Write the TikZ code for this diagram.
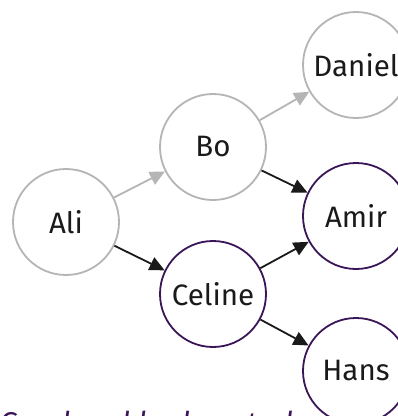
\documentclass[tikz,border=0pt]{standalone}
\usepackage{fontspec}
\setmainfont{Fira Sans}
\usetikzlibrary{arrows.meta}
\definecolor{faded}{HTML}{B5B5B5}
\definecolor{plum}{HTML}{3A1558}
\definecolor{ink}{HTML}{1A1A1A}
\begin{document}
\begin{tikzpicture}[x=1pt,y=-1pt,
  person/.style={circle, minimum size=106pt, inner sep=0pt, line width=1.8pt,
    fill=white, font=\fontsize{29.5}{32}\selectfont, text=ink},
  dim/.style={person, draw=faded},
  focus/.style={person, draw=plum},
  link/.style={line width=1.8pt, -{Triangle[length=15pt,width=14pt]}},
  dimlink/.style={link, draw=faded},
  strong/.style={link, draw=ink}]
\useasboundingbox (0,0) rectangle (398,416);
\clip (0,0) rectangle (398,416);
\fill[white] (0,0) rectangle (398,416);

\node[dim]   (ali)    at (66,222)  {Ali};
\node[dim]   (bo)     at (213,147) {Bo};
\node[dim]   (daniel) at (356,65)  {Daniel};
\node[focus] (celine) at (213,294) {Celine};
\node[focus] (amir)   at (356,216) {Amir};
\node[focus] (hans)   at (356,371) {Hans};

\draw[dimlink] (ali) -- (bo);
\draw[dimlink] (bo) -- (daniel);
\draw[strong]  (ali) -- (celine);
\draw[strong]  (bo) -- (amir);
\draw[strong]  (celine) -- (amir);
\draw[strong]  (celine) -- (hans);

\node[anchor=base west, inner sep=0pt, text=plum,
  font=\fontsize{30}{32}\selectfont\itshape] (caption) at (-1,433.5)
  {Good and bad controls};
\end{tikzpicture}
\end{document}
